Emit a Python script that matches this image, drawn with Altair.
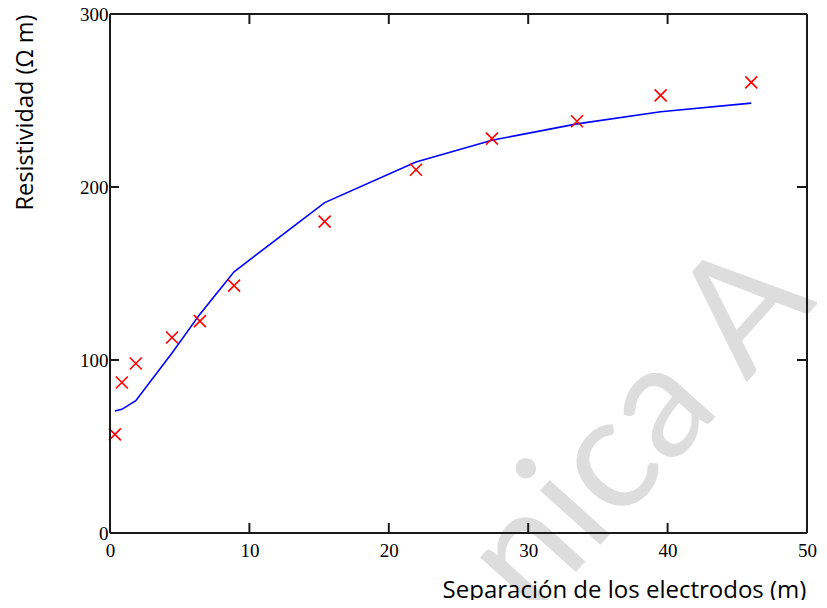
import altair as alt
import pandas as pd

# Data
sep_m = [0.35, 0.85, 1.85, 4.45, 6.45, 8.9, 15.4, 21.95, 27.4, 33.5, 39.5, 46.0]
res_measured = [57, 87, 98, 113, 122.5, 143, 180, 210, 228, 238, 253, 260.5]
res_model = [70.5, 71.5, 76.5, 104, 126.5, 151, 191, 214.5, 227, 236.5, 243.5, 248.5]

x_ticks = [0, 10, 20, 30, 40, 50]
y_ticks = [0, 100, 200, 300]

watermark_text = ["nica A"]

W, H = 697, 519

df = pd.DataFrame({"sep": sep_m, "meas": res_measured, "model": res_model})
dx = pd.DataFrame({"v": x_ticks})
dy = pd.DataFrame({"v": y_ticks})
dw = pd.DataFrame({"t": watermark_text})
one = pd.DataFrame({"k": [0]})

xs = alt.Scale(domain=[0, 50], nice=False, zero=False)
ys = alt.Scale(domain=[0, 300], nice=False, zero=False)

SERIF = "Times New Roman, Liberation Serif, serif"
lab = dict(ticks=False, grid=False, domain=False, labelFlush=False, zindex=1,
           labelFont=SERIF, labelFontSize=19, labelColor="black")

x_axis = alt.Axis(values=x_ticks, labelPadding=8, title="Separación de los electrodos (m)",
                  titleFontSize=24, titleX=514, titleY=57, titleAlign="center",
                  titleBaseline="middle", **lab)
y_axis = alt.Axis(values=y_ticks, labelPadding=2, title="Resistividad (Ω m)",
                  titleFontSize=23.5, titleX=-85, titleY=98, titleAngle=270,
                  titleAlign="center", titleBaseline="middle", **lab)

wm = alt.Chart(dw).mark_text(
    font="Lato", fontSize=160, color="#dddddd", angle=312,
    align="center", baseline="middle"
).encode(text="t:N", x=alt.value(530), y=alt.value(415))

line = alt.Chart(df).mark_line(color="#0000ff", strokeWidth=1.6).encode(
    x=alt.X("sep:Q", scale=xs, axis=x_axis),
    y=alt.Y("model:Q", scale=ys, axis=y_axis),
    order="sep:Q",
)

pts = alt.Chart(df).mark_point(
    shape="M-1,-1L1,1M-1,1L1,-1", size=144, filled=False, color="#ff0000",
    strokeWidth=1.6, opacity=1
).encode(x=alt.X("sep:Q", scale=xs, axis=x_axis), y=alt.Y("meas:Q", scale=ys, axis=y_axis))

fs = dict(color="#1a1a1a", strokeWidth=2)
frame = [
    alt.Chart(one).mark_rule(**fs).encode(x=alt.value(0), x2=alt.value(W), y=alt.value(0)),
    alt.Chart(one).mark_rule(**fs).encode(x=alt.value(0), x2=alt.value(W), y=alt.value(H)),
    alt.Chart(one).mark_rule(**fs).encode(y=alt.value(0), y2=alt.value(H), x=alt.value(0)),
    alt.Chart(one).mark_rule(**fs).encode(y=alt.value(0), y2=alt.value(H), x=alt.value(W)),
]

tb = alt.Chart(dx).mark_rule(**fs).encode(
    x=alt.X("v:Q", scale=xs, axis=x_axis), y=alt.value(H), y2=alt.value(H - 10))
tt = alt.Chart(dx).mark_rule(**fs).encode(
    x=alt.X("v:Q", scale=xs, axis=x_axis), y=alt.value(0), y2=alt.value(10))
tl = alt.Chart(dy).mark_rule(**fs).encode(
    y=alt.Y("v:Q", scale=ys, axis=y_axis), x=alt.value(0), x2=alt.value(9))
tr = alt.Chart(dy).mark_rule(**fs).encode(
    y=alt.Y("v:Q", scale=ys, axis=y_axis), x=alt.value(W - 10), x2=alt.value(W))

chart = alt.layer(wm, line, pts, *frame, tb, tt, tl, tr).properties(
    width=W, height=H,
    autosize=alt.AutoSizeParams(type="none"),
    padding={"left": 102, "top": 6, "right": 10, "bottom": 67},
).configure(background="white").configure_view(stroke=None).configure_axis(
    labelFont=SERIF, labelFontSize=19, labelColor="black",
    titleFont="Open Sans", titleFontWeight="normal", titleColor="black",
)

chart.save("out.html", embed_options={"renderer": "svg", "actions": False})
